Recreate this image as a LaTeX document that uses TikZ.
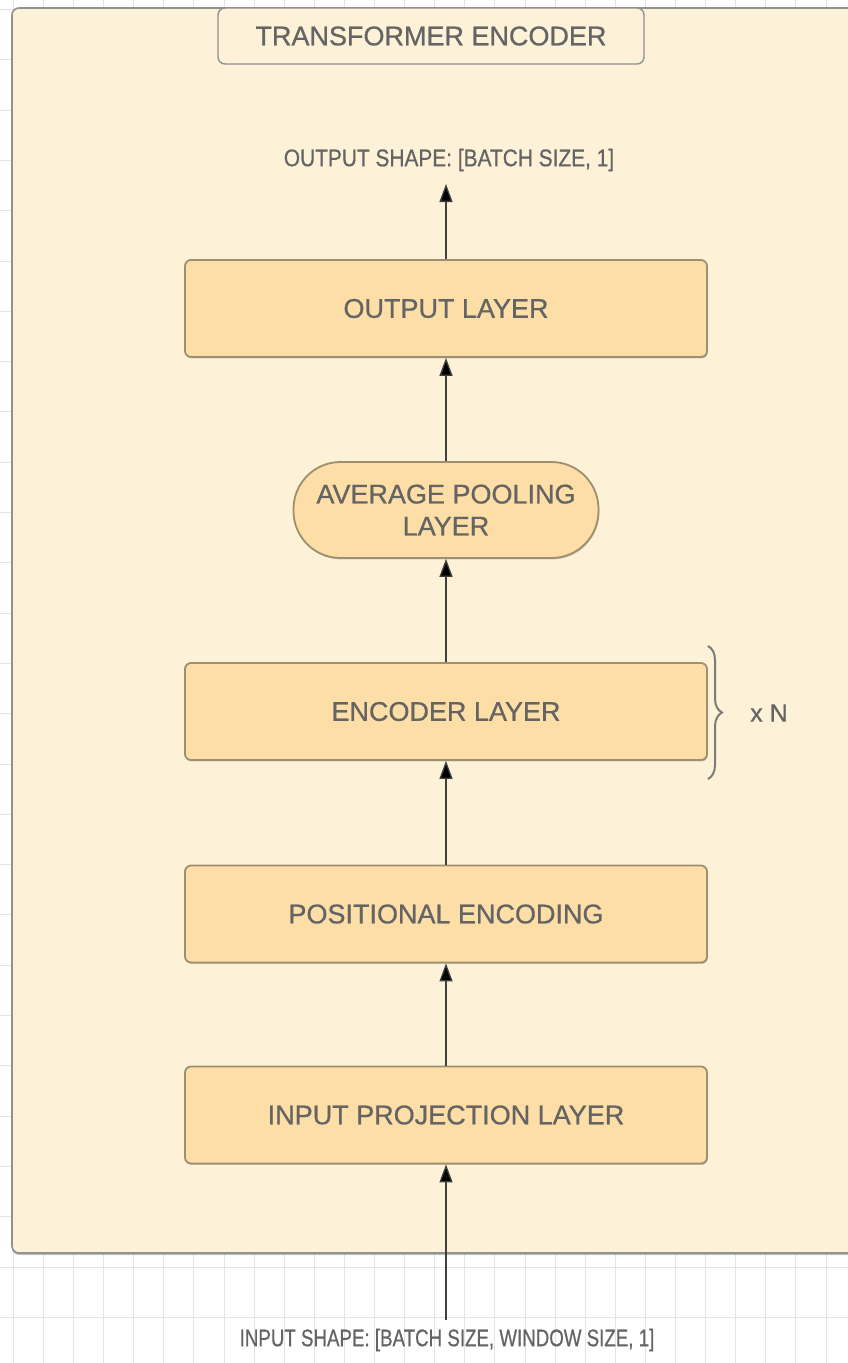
\documentclass[tikz,border=0pt]{standalone}
\usepackage{fontspec}
\setmainfont[FakeBold=0.7]{Liberation Sans}
\usepackage{graphicx}
\usetikzlibrary{arrows.meta,shadows,decorations.pathreplacing}

\definecolor{panelfill}{RGB}{253,241,215}
\definecolor{panelline}{RGB}{145,145,145}
\definecolor{boxfill}{RGB}{253,222,166}
\definecolor{boxline}{RGB}{160,142,112}
\definecolor{txt}{RGB}{100,100,100}
\definecolor{gridline}{RGB}{228,228,228}

\tikzset{
  layerbox/.style={draw=boxline, line width=1.8pt, fill=boxfill, rounded corners=6pt,
    minimum width=522pt, minimum height=97pt, inner sep=0pt, align=center,
    text=txt, font=\fontsize{27}{32}\selectfont,
    drop shadow={shadow xshift=0.8pt, shadow yshift=-1.4pt, opacity=0.35, fill=black!60}},
  poolbox/.style={layerbox, minimum width=305pt, minimum height=96pt, rounded corners=47pt},
  titlebox/.style={draw=panelline, line width=1.4pt, fill=panelfill, rounded corners=7pt,
    minimum width=426pt, minimum height=56pt, inner sep=0pt,
    text=txt, font=\fontsize{27}{30}\selectfont},
  shapelabel/.style={text=txt, inner sep=0pt, font=\fontsize{24}{28}\selectfont},
  flow/.style={draw=black!75, line width=1.3pt, -{Triangle[length=18pt,width=13pt,fill=black]}},
}

\begin{document}
\begin{tikzpicture}[x=1pt, y=-1pt]
  \clip (0,0) rectangle (848,1363);
  \fill[white] (0,0) rectangle (848,1363);

  % background grid of the canvas
  \foreach \i in {0,...,28} {
    \draw[gridline, line width=1pt] ({13.3+30.1*\i},0) -- ({13.3+30.1*\i},1363);
  }
  \foreach \j in {-26,...,2} {
    \draw[gridline, line width=1pt] (0,{1267+50.3*\j}) -- (848,{1267+50.3*\j});
  }

  % encoder panel
  \draw[panelline, line width=1.6pt, fill=panelfill, rounded corners=7pt,
        drop shadow={shadow xshift=0pt, shadow yshift=-2pt, opacity=0.45, fill=black!55}]
    (12,8) rectangle (870,1253);

  \node[titlebox] (title) at (431,36) {TRANSFORMER ENCODER};

  % layers
  \node[layerbox] (out)  at (446,308.5) {OUTPUT LAYER};
  \node[poolbox]  (pool) at (446,510)   {AVERAGE POOLING\\LAYER};
  \node[layerbox] (enc)  at (446,711.5) {ENCODER LAYER};
  \node[layerbox] (pos)  at (446,914)   {POSITIONAL ENCODING};
  \node[layerbox] (inp)  at (446,1115)  {INPUT PROJECTION LAYER};

  % input / output shapes
  \node[shapelabel] (outlbl) at (449,160) {\scalebox{0.87}[1]{OUTPUT SHAPE: [BATCH SIZE, 1]}};
  \node[shapelabel] (inlbl)  at (447,1340) {\scalebox{0.78}[1]{INPUT SHAPE: [BATCH SIZE, WINDOW SIZE, 1]}};
  \coordinate (outtip) at (446,184);
  \coordinate (instart) at (446,1320);

  % data flow
  \draw[flow] (instart) -- (inp.south);
  \draw[flow] (inp.north) -- (pos.south);
  \draw[flow] (pos.north) -- (enc.south);
  \draw[flow] (enc.north) -- (pool.south);
  \draw[flow] (pool.north) -- (out.south);
  \draw[flow] (out.north) -- (outtip);

  % repetition brace
  \coordinate (bracetop) at (708,646);
  \coordinate (bracebot) at (708,779);
  \draw[panelline!85!black, line width=2pt, decorate,
        decoration={brace, amplitude=14pt, aspect=0.5}] (bracetop) -- (bracebot);
  \node[shapelabel, font=\fontsize{25}{28}\selectfont] (rep) at (769,713) {x N};
\end{tikzpicture}
\end{document}
